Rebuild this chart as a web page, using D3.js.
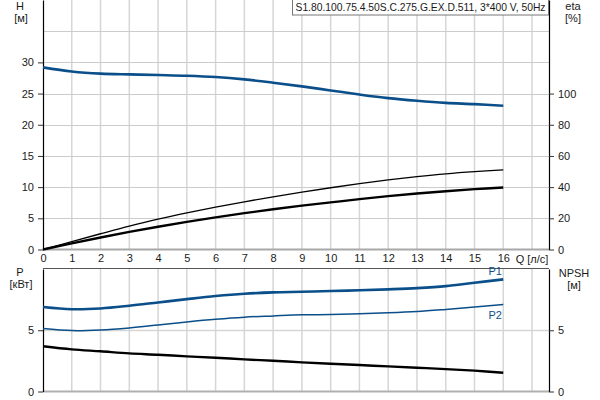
<!DOCTYPE html>
<html><head><meta charset="utf-8">
<script src="https://cdn.jsdelivr.net/npm/d3@7"></script>
<style>
body{margin:0;background:#fff;}
svg{display:block;font-family:"Liberation Sans",Arial,sans-serif;}
</style></head>
<body><svg id="c" width="600" height="400"></svg>
<script>
const Q = [0,1,2,3,4,5,6,7,8,9,10,11,12,13,14,15,16];
const H = [29.2,28.55,28.2,28.07,27.97,27.86,27.65,27.27,26.74,26.15,25.5,24.85,24.27,23.84,23.5,23.3,23.04];
const etaPump = [0,5.1,10.1,15,19.5,23.5,27.2,30.6,33.8,36.8,39.6,42.2,44.6,46.7,48.5,49.9,51];
const etaTotal = [0,3.9,7.7,11.3,14.6,17.7,20.6,23.3,25.8,28.1,30.2,32.3,34.2,35.9,37.4,38.7,39.8];
const P1 = [6.9,6.72,6.78,7.0,7.27,7.54,7.79,7.98,8.09,8.14,8.2,8.26,8.34,8.44,8.6,8.88,9.15];
const P2 = [5.14,4.97,5.02,5.19,5.43,5.68,5.9,6.07,6.17,6.26,6.28,6.34,6.42,6.53,6.7,6.89,7.1];
const NPSH = [3.69,3.44,3.28,3.11,3.0,2.87,2.76,2.62,2.51,2.38,2.27,2.16,2.05,1.94,1.83,1.7,1.53];
const xTicks = [0,1,2,3,4,5,6,7,8,9,10,11,12,13,14,15,16];
const hTicks = [0,5,10,15,20,25,30];
const etaTicks = [0,20,40,60,80,100];
const pTicks = [0,5];
const npshTicks = [0,5];
const title = "S1.80.100.75.4.50S.C.275.G.EX.D.511, 3*400 V, 50Hz";

const svg = d3.select("#c");
const L = 43, R = 549;
const x = d3.scaleLinear().domain([0,17.59]).range([L,R]);
const yH = d3.scaleLinear().domain([0,40]).range([249.5,0]);
const yEta = d3.scaleLinear().domain([0,160]).range([249.5,0]);
const yP = d3.scaleLinear().domain([0,10]).range([391.5,269]);
const yN = d3.scaleLinear().domain([0,10]).range([391.5,269]);
const blue = "#0b4f8a";
const txt = "#1a1a1a";

// grids
const gridX = d3.range(1,18);
svg.append("g").selectAll("line").data(gridX).join("line")
  .attr("x1",d=>x(d)).attr("x2",d=>x(d)).attr("y1",0).attr("y2",249.5)
  .attr("stroke","#d6d6d6").attr("stroke-width",1.5);
svg.append("g").selectAll("line").data([5,10,15,20,25,30,35]).join("line")
  .attr("x1",L).attr("x2",R).attr("y1",d=>Math.round(yH(d))+0.5).attr("y2",d=>Math.round(yH(d))+0.5)
  .attr("stroke","#cccccc").attr("stroke-width",1);
svg.append("g").selectAll("line").data(gridX).join("line")
  .attr("x1",d=>x(d)).attr("x2",d=>x(d)).attr("y1",269).attr("y2",391.5)
  .attr("stroke","#d6d6d6").attr("stroke-width",1.5);
svg.append("line").attr("x1",L).attr("x2",R).attr("y1",Math.round(yP(5))+0.5).attr("y2",Math.round(yP(5))+0.5)
  .attr("stroke","#d6d6d6").attr("stroke-width",1.5);

// frames
svg.append("line").attr("x1",L).attr("x2",R).attr("y1",249.5).attr("y2",249.5).attr("stroke","#a8a8a8").attr("stroke-width",2);
svg.append("line").attr("x1",L).attr("x2",R).attr("y1",391.5).attr("y2",391.5).attr("stroke","#b0b0b0").attr("stroke-width",2);
svg.append("line").attr("x1",L).attr("x2",R).attr("y1",268.5).attr("y2",268.5).attr("stroke","#555").attr("stroke-width",1);

function styleAxis(g, lineColor){
  g.selectAll("text").attr("fill",txt).style("font-size","11px").style("font-family","'Liberation Sans',Arial,sans-serif");
  g.selectAll(".tick line").attr("stroke","#333");
  g.select(".domain").attr("stroke",lineColor||"#000").attr("stroke-width",1.2);
}
// top plot axes
svg.append("g").attr("transform",`translate(${L},0)`)
  .call(d3.axisLeft(yH).tickValues(hTicks).tickSize(5).tickSizeOuter(0).tickPadding(4))
  .call(g=>styleAxis(g));
svg.append("g").attr("transform",`translate(${R},0)`)
  .call(d3.axisRight(yEta).tickValues(etaTicks).tickSize(5).tickSizeOuter(0).tickPadding(4))
  .call(g=>styleAxis(g));
svg.append("g").attr("transform",`translate(0,249.5)`)
  .call(d3.axisBottom(x).tickValues(xTicks).tickSize(0).tickSizeOuter(0).tickPadding(5))
  .call(g=>{styleAxis(g); g.select(".domain").remove();});
svg.append("text").attr("x",x(17)).attr("y",263).attr("text-anchor","middle").attr("fill",txt).style("font-size","11px").text("Q [л/с]");

// bottom plot axes
svg.append("g").attr("transform",`translate(${L},0)`)
  .call(d3.axisLeft(yP).tickValues(pTicks).tickSize(5).tickSizeOuter(0).tickPadding(4))
  .call(g=>styleAxis(g));
svg.append("g").attr("transform",`translate(${R},0)`)
  .call(d3.axisRight(yN).tickValues(npshTicks).tickSize(5).tickSizeOuter(0).tickPadding(4))
  .call(g=>styleAxis(g));

// axis titles
function lab(t,xx,yy){svg.append("text").attr("x",xx).attr("y",yy).attr("text-anchor","middle").attr("fill",txt).style("font-size","11px").text(t);}
lab("H",20,10); lab("[м]",21,22);
lab("eta",573,10); lab("[%]",573,22);
lab("P",20,276); lab("[кВт]",21,288);
lab("NPSH",574,277); lab("[м]",574,289);

// curves
const curve = d3.curveCatmullRom.alpha(0.5);
function drawLine(vals, ys, color, w){
  const line = d3.line().x((d,i)=>x(Q[i])).y(d=>ys(d)).curve(curve);
  svg.append("path").datum(vals).attr("d",line).attr("fill","none").attr("stroke",color).attr("stroke-width",w).attr("stroke-linejoin","round");
}
drawLine(H, yH, blue, 2.6);
drawLine(etaPump, yEta, "#000", 1.3);
drawLine(etaTotal, yEta, "#000", 2.4);
drawLine(P1, yP, blue, 2.6);
drawLine(P2, yP, blue, 1.5);
drawLine(NPSH, yN, "#000", 2.4);

svg.append("text").attr("x",x(16)-8).attr("y",yP(P1[16])-4).attr("text-anchor","middle").attr("fill",blue).style("font-size","11px").text("P1");
svg.append("text").attr("x",x(16)-8).attr("y",yP(P2[16])+14).attr("text-anchor","middle").attr("fill",blue).style("font-size","11px").text("P2");

// title box
const tb = svg.append("g");
tb.append("rect").attr("x",292.5).attr("y",-0.5).attr("width",256).attr("height",15.5).attr("fill","#fff").attr("stroke","#777");
tb.append("text").attr("x",420.5).attr("y",11).attr("text-anchor","middle").attr("fill",txt).style("font-size","11px")
  .attr("textLength",250).attr("lengthAdjust","spacingAndGlyphs").text(title);
</script>
</body></html>
